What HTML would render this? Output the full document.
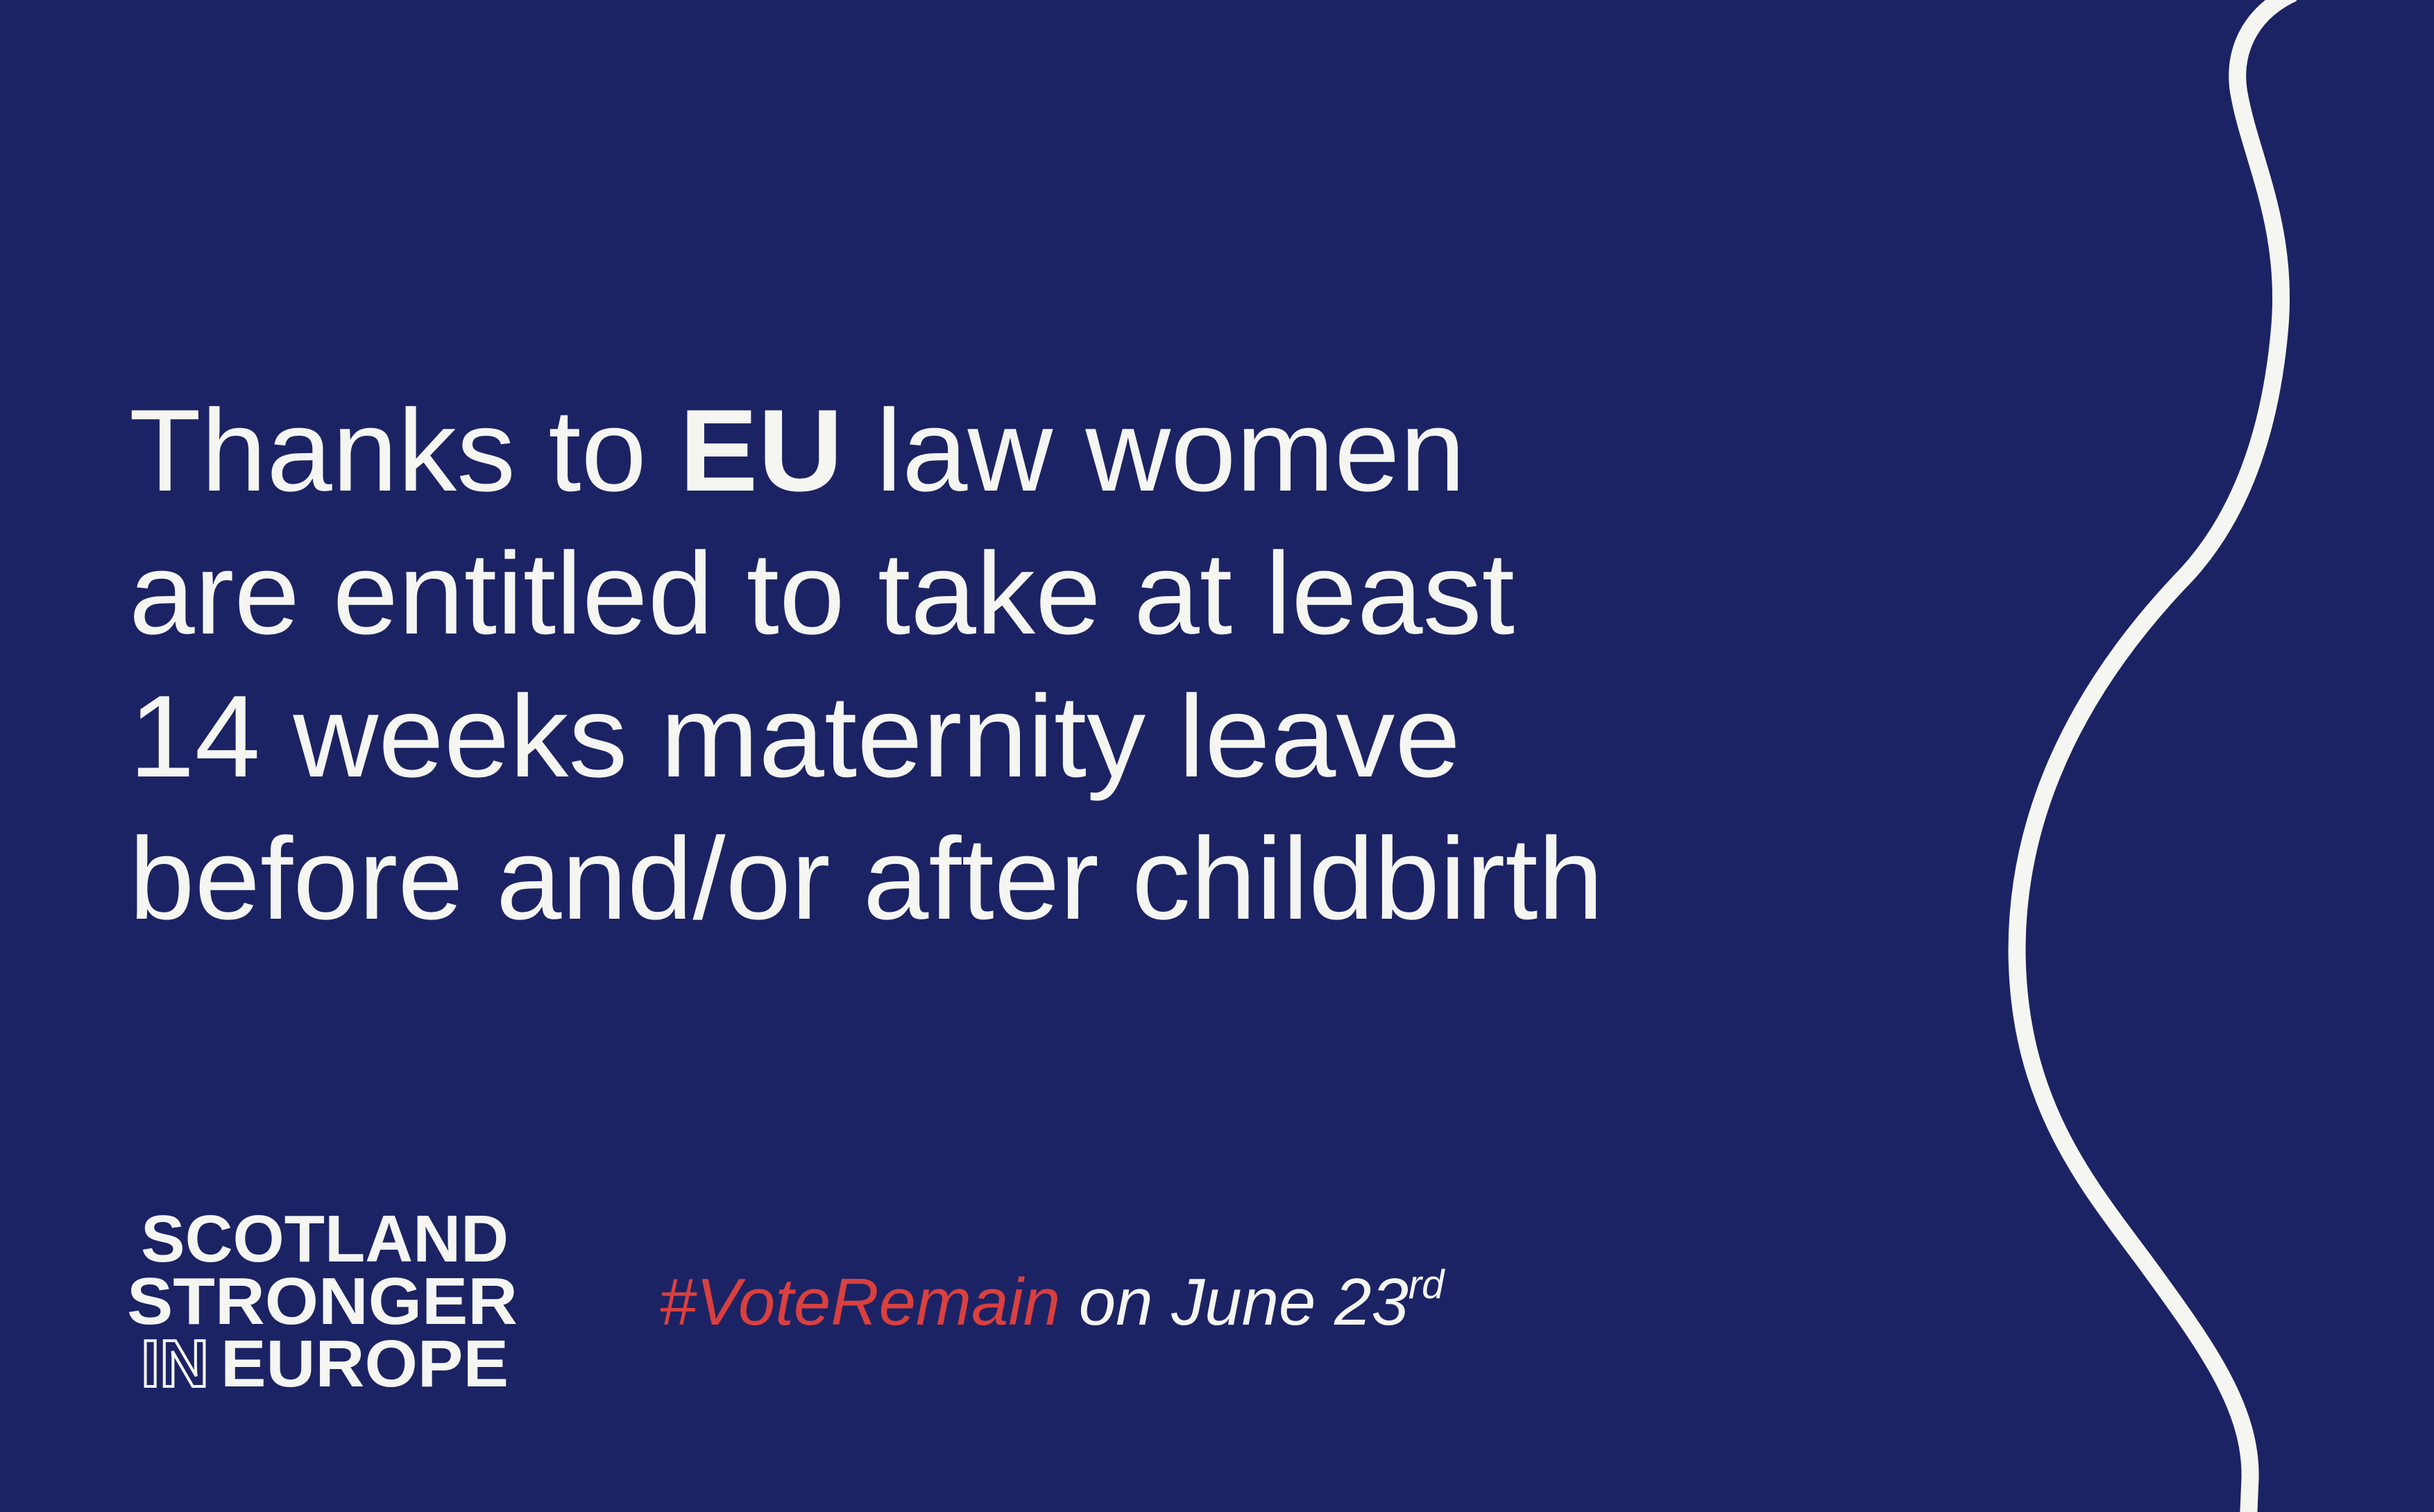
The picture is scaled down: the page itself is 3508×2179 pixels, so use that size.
<!DOCTYPE html>
<html><head><meta charset="utf-8"><style>
html,body{margin:0;padding:0;background:#1c2364;}
svg{display:block;}
</style></head><body>
<svg width="3508" height="2179" viewBox="0 0 3508 2179" xmlns="http://www.w3.org/2000/svg">
<rect x="0" y="0" width="3508" height="2179" fill="#1c2364"/>
<path d="M3305,-10 C3240,20 3215,80 3228,140 C3245,230 3300,330 3285,480 C3270,640 3220,760 3140,840 C2990,1000 2905,1180 2907,1376 C2910,1600 3020,1720 3100,1830 C3180,1940 3245,2030 3243,2130 L3240,2200" fill="none" stroke="#f5f6f2" stroke-width="25"/>
<g font-family="Liberation Sans, sans-serif" font-size="168" fill="#f5f6f2">
<text x="186" y="707" textLength="1926" lengthAdjust="spacingAndGlyphs">Thanks to <tspan font-weight="bold">EU</tspan> law women</text>
<text x="186" y="913" textLength="1997" lengthAdjust="spacingAndGlyphs">are entitled to take at least</text>
<text x="186" y="1119" textLength="1919" lengthAdjust="spacingAndGlyphs">14 weeks maternity leave</text>
<text x="186" y="1324" textLength="2125" lengthAdjust="spacingAndGlyphs">before and/or after childbirth</text>
</g>
<g font-family="Liberation Sans, sans-serif" font-weight="bold" font-size="96" fill="#f5f6f2">
<text x="203" y="1818" textLength="530" lengthAdjust="spacingAndGlyphs">SCOTLAND</text>
<text x="183" y="1908" textLength="563" lengthAdjust="spacingAndGlyphs">STRONGER</text>
<text x="203" y="1998" textLength="98" lengthAdjust="spacingAndGlyphs" fill="none" stroke="#f5f6f2" stroke-width="4">IN</text>
<text x="318" y="1998" textLength="415" lengthAdjust="spacingAndGlyphs">EUROPE</text>
</g>
<text x="950" y="1909" font-family="Liberation Sans, sans-serif" font-style="italic" font-size="96" fill="#f5f6f2"><tspan fill="#d9403f">#VoteRemain</tspan> on June 23<tspan font-size="58" dy="-38">rd</tspan></text>
</svg>
</body></html>
